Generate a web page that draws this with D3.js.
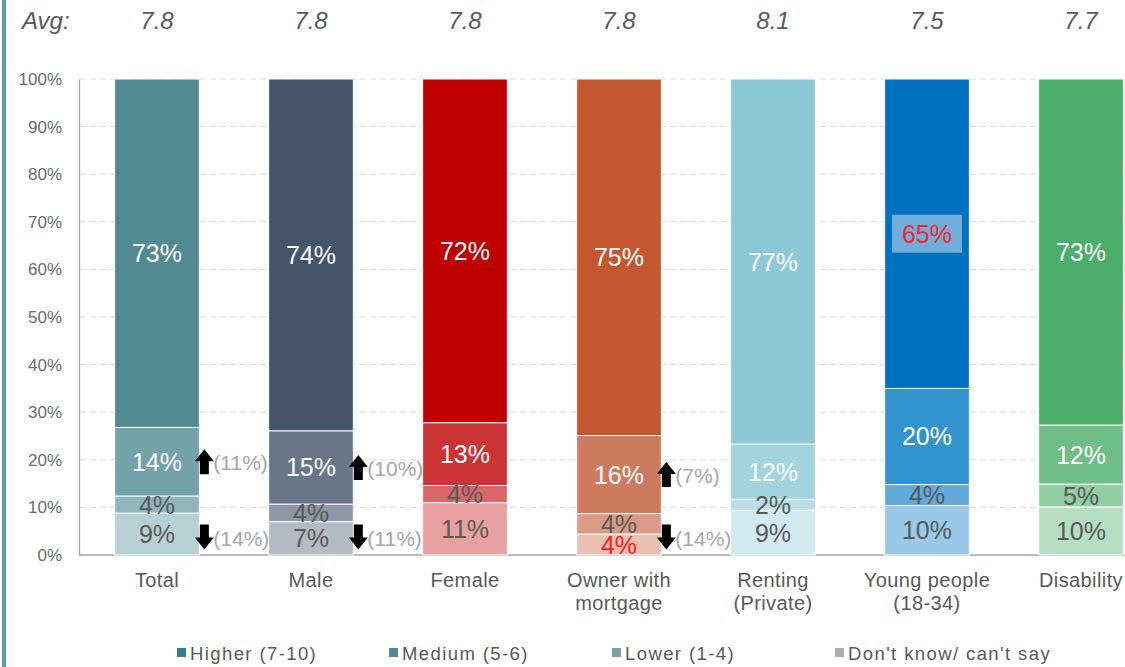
<!DOCTYPE html>
<html><head><meta charset="utf-8">
<script src="https://cdn.jsdelivr.net/npm/d3@7"></script>
<style>body{margin:0;background:#fff}svg{display:block;font-family:"Liberation Sans",Arial,sans-serif}</style>
</head><body><svg id="c" width="1125" height="667"></svg>
<script>
const categories = ["Total","Male","Female","Owner with\nmortgage","Renting\n(Private)","Young people\n(18-34)","Disability"];
const averages = ["7.8","7.8","7.8","7.8","8.1","7.5","7.7"];
const dontKnow = [0.088,0.070,0.110,0.044,0.094,0.104,0.101];
const lower    = [0.036,0.037,0.036,0.043,0.023,0.044,0.048];
const medium   = [0.144,0.154,0.132,0.164,0.116,0.202,0.124];
const higher   = [0.732,0.739,0.722,0.749,0.767,0.650,0.727];
const seriesNames = ["Higher (7-10)","Medium (5-6)","Lower (1-4)","Don't know/ can't say"];
const changeUp   = ["(11%)","(10%)",null,"(7%)",null,null,null];
const changeDown = ["(14%)","(11%)",null,"(14%)",null,null,null];
const yTicks = [0,0.1,0.2,0.3,0.4,0.5,0.6,0.7,0.8,0.9,1.0];

const palette = [
  ["#518A92","#73A3A8","#8FB6BA","#B6D0D3"],
  ["#44546A","#69768A","#8D97A6","#B3BAC4"],
  ["#C00000","#CC3335","#DA6668","#E8A0A0"],
  ["#C4572F","#CE7A5E","#D99A86","#E9C1B3"],
  ["#8CC8D6","#A2D3DF","#B9DFE8","#D1EAEF"],
  ["#0070C0","#3194CF","#62AADB","#9AC9E7"],
  ["#4BAE6A","#6FBE88","#91CEA4","#B6DEC3"]
];
const legendColors = ["#31808C","#4F8A93","#7E9FA3","#A9AFB0"];

const svg = d3.select("#c");
const x = d3.scaleBand().domain(categories).range([80,1158]).paddingInner(0.45).paddingOuter(0.225);
const y = d3.scaleLinear().domain([0,1]).range([555,79]);

// left decorative line
svg.append("rect").attr("x",2).attr("y",0).attr("width",4).attr("height",667).attr("fill","#5E9BA2");

// gridlines
svg.append("g").selectAll("line").data(yTicks.filter(d=>d>0)).join("line")
  .attr("x1",80).attr("x2",1125).attr("y1",d=>y(d)).attr("y2",d=>y(d))
  .attr("stroke","#D9D9D9").attr("stroke-dasharray","6,4");

// y axis
const yAxis = svg.append("g").attr("transform","translate(79,0)")
  .call(d3.axisLeft(y).tickValues(yTicks).tickFormat(d3.format(".0%")).tickSize(0).tickPadding(17));
yAxis.select(".domain").attr("stroke","#A6A6A6").attr("stroke-width",1.3);
yAxis.selectAll("text").attr("fill","#6B6B6B").attr("font-size",17).attr("font-family","Liberation Sans, Arial, sans-serif");

// x axis line
svg.append("line").attr("x1",79).attr("x2",1125).attr("y1",y(0)).attr("y2",y(0)).attr("stroke","#A6A6A6").attr("stroke-width",1.3);

// stacked data
const rows = categories.map((c,i)=>({cat:c,i,dk:dontKnow[i],lo:lower[i],me:medium[i],hi:higher[i]}));
const keys = ["dk","lo","me","hi"];
const stack = d3.stack().keys(keys)(rows);
const colorIdx = {hi:0,me:1,lo:2,dk:3};

const segG = svg.append("g");
stack.forEach(layer=>{
  const k = layer.key;
  segG.selectAll(null).data(layer).join("rect")
    .attr("x",d=>x(d.data.cat)).attr("width",x.bandwidth())
    .attr("y",d=>y(d[1])).attr("height",d=>y(d[0])-y(d[1]))
    .attr("fill",d=>palette[d.data.i][colorIdx[k]])
    .attr("stroke","#fff").attr("stroke-width",1);
});

// Young people highlight box
const yi = 5;
const yc = x(categories[yi])+x.bandwidth()/2;
const ymid = (y(1)+y(1-higher[yi]))/2;
svg.append("rect").attr("x",yc-35).attr("y",ymid-19).attr("width",70).attr("height",38).attr("fill","#70ADDA");

// labels
const fmt = d3.format(".0%");
stack.forEach(layer=>{
  const k = layer.key;
  svg.append("g").selectAll("text").data(layer).join("text")
    .attr("x",d=>x(d.data.cat)+x.bandwidth()/2)
    .attr("y",d=>(y(d[0])+y(d[1]))/2)
    .attr("dy","0.36em").attr("text-anchor","middle").attr("font-size",25)
    .attr("fill",d=>{
      if(k==="hi") return d.data.i===5 ? "#F0262B" : "#FFFFFF";
      if(k==="me") return "#FFFFFF";
      if(k==="dk" && d.data.i===3) return "#FF1A1A";
      return "#595959";
    })
    .text(d=>fmt(d[1]-d[0]));
});

// change arrows
function arrow(g,cx,cy,up){
  const w=19,h=25,sw=9,hh=12;
  let pts = [[0,-h/2],[w/2,-h/2+hh],[sw/2,-h/2+hh],[sw/2,h/2],[-sw/2,h/2],[-sw/2,-h/2+hh],[-w/2,-h/2+hh]];
  if(!up) pts = pts.map(p=>[p[0],-p[1]]);
  g.append("polygon").attr("points",pts.map(p=>[cx+p[0],cy+p[1]].join(",")).join(" ")).attr("fill","#000");
}
const arrG = svg.append("g");
rows.forEach(r=>{
  const right = x(r.cat)+x.bandwidth();
  const s = stack.map(l=>l[r.i]);
  if(changeUp[r.i]){
    const cy = (y(s[2][0])+y(s[2][1]))/2;
    arrow(arrG,right+5,cy,true);
    arrG.append("text").attr("x",right+14).attr("y",cy+1).attr("dy","0.36em").attr("font-size",21).attr("fill","#A6A6A6").text(changeUp[r.i]);
  }
  if(changeDown[r.i]){
    const cy = y(0)-18;
    arrow(arrG,right+5,cy,false);
    arrG.append("text").attr("x",right+14).attr("y",cy+1).attr("dy","0.36em").attr("font-size",21).attr("fill","#A6A6A6").text(changeDown[r.i]);
  }
});

// category labels
const catG = svg.append("g");
categories.forEach(c=>{
  const t = catG.append("text").attr("x",x(c)+x.bandwidth()/2).attr("y",587).attr("text-anchor","middle")
    .attr("font-size",20).attr("letter-spacing",0.4).attr("fill","#595959");
  c.split("\n").forEach((line,j)=>t.append("tspan").attr("x",x(c)+x.bandwidth()/2).attr("dy",j?23:0).text(line));
});

// averages
svg.append("text").attr("x",22).attr("y",29).attr("font-size",24).attr("font-style","italic").attr("fill","#595959").text("Avg:");
svg.append("g").selectAll("text").data(categories).join("text")
  .attr("x",c=>x(c)+x.bandwidth()/2).attr("y",29).attr("text-anchor","middle")
  .attr("font-size",24).attr("font-style","italic").attr("fill","#595959")
  .text((c,i)=>averages[i]);

// legend
const legX = [177,389,612,835];
const lg = svg.append("g");
seriesNames.forEach((n,i)=>{
  lg.append("rect").attr("x",legX[i]).attr("y",648).attr("width",9).attr("height",9).attr("fill",legendColors[i]);
  lg.append("text").attr("x",legX[i]+13).attr("y",660).attr("font-size",18.5).attr("letter-spacing",1.4).attr("fill","#595959").text(n);
});
</script></body></html>
